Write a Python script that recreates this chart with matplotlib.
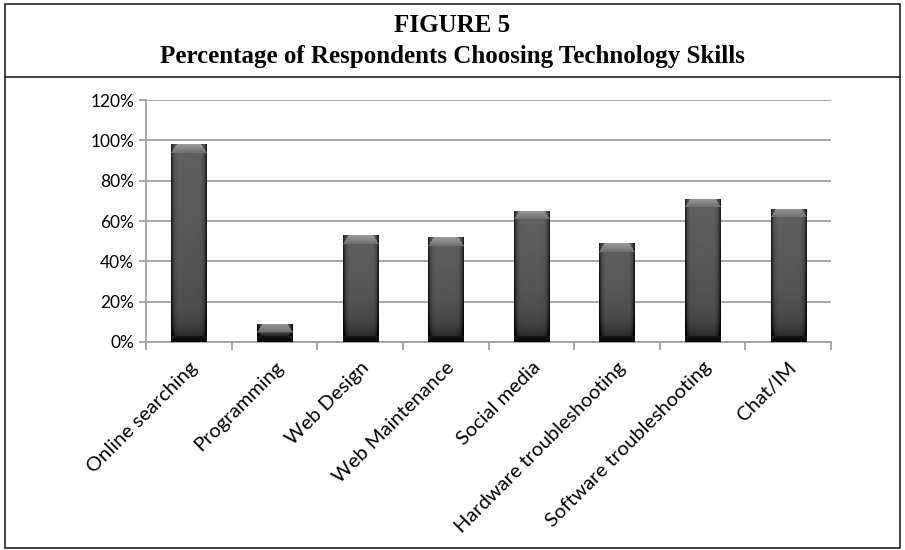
import matplotlib
matplotlib.use("Agg")
import matplotlib.pyplot as plt
import numpy as np
from matplotlib.lines import Line2D
from matplotlib.patches import Rectangle

# data
skills = ["Online searching", "Programming", "Web Design", "Web Maintenance",
          "Social media", "Hardware troubleshooting", "Software troubleshooting",
          "Chat/IM"]
percent = [98, 9, 53, 52, 65, 49, 71, 66]
yticks = [0, 20, 40, 60, 80, 100, 120]

title1 = "FIGURE 5"
title2 = "Percentage of Respondents Choosing Technology Skills"

W, H = 905, 550
fig = plt.figure(figsize=(W / 100, H / 100), dpi=100)

# frame and title box
fig.add_artist(Rectangle((5 / W, 2 / H), 895 / W, 544 / H, transform=fig.transFigure,
                         fill=False, edgecolor="#222222", linewidth=1.2))
fig.add_artist(Line2D([5 / W, 900 / W], [1 - 77 / H, 1 - 77 / H], transform=fig.transFigure,
                      color="#222222", linewidth=1.2))
fig.text(0.5, 1 - 25 / H, title1, ha="center", va="center", family="Liberation Serif",
         weight="bold", fontsize=18)
fig.text(0.5, 1 - 57 / H, title2, ha="center", va="center", family="Liberation Serif",
         weight="bold", fontsize=18)

ax = fig.add_axes([146 / W, 1 - 342 / H, (831 - 146) / W, (342 - 100) / H])
x = np.arange(len(skills))
ax.set_xlim(-0.5, len(skills) - 0.5)
ax.set_ylim(0, 120)

grid_col = "#a0a0a0"
ax.set_yticks(yticks)
ax.set_yticklabels([f"{v}%" for v in yticks], family="Lato", fontsize=12.5)
ax.yaxis.grid(True, color=grid_col, linewidth=1.3)
ax.set_axisbelow(True)
for s in ["top", "right"]:
    ax.spines[s].set_visible(False)
ax.spines["left"].set_color(grid_col)
ax.spines["bottom"].set_color(grid_col)
ax.spines["left"].set_linewidth(1.3)
ax.spines["bottom"].set_linewidth(1.3)
ax.tick_params(axis="y", colors=grid_col, labelcolor="black", length=5, width=1.3)

ax.set_xticks(x)
ax.set_xticklabels(skills, rotation=45, ha="right", rotation_mode="anchor",
                   family="Lato", fontsize=14.5)
ax.set_xticks(np.arange(len(skills) + 1) - 0.5, minor=True)
ax.tick_params(axis="x", which="major", length=0, pad=12)
ax.tick_params(axis="x", which="minor", length=6, width=1.3, colors=grid_col)

bar_w = 0.41
bars = ax.bar(x, percent, width=bar_w, color="#4d4d4d", zorder=2)

# bevelled gradient fill for each bar
fig.canvas.draw()
px_per_unit = ax.transData.transform((0, 1))[1] - ax.transData.transform((0, 0))[1]
for b, val in zip(bars, percent):
    hpx = max(int(val * px_per_unit), 4)
    wpx = 36
    xs = np.linspace(-1, 1, wpx)
    prof = 0.38 - 0.26 * np.abs(xs) ** 8
    img = np.tile(prof, (hpx, 1))
    # darken toward the bottom
    dist = np.arange(hpx)[::-1][:, None]
    img = img - 0.08 * np.linspace(0, 1, hpx)[:, None] - 0.22 * np.exp(-dist / 12.0)
    # top bevel lighter
    bev = min(9, hpx // 2)
    for i in range(bev):
        inset = int((bev - i) * 0.7)
        img[i, inset:wpx - inset] = 0.60 - 0.18 * i / bev
    # bottom bevel dark
    for i in range(min(6, hpx // 3)):
        img[hpx - 1 - i, :] = 0.04 + 0.01 * i
    img = np.clip(img, 0, 1)
    x0 = b.get_x()
    im = ax.imshow(img, cmap="gray", vmin=0, vmax=1, aspect="auto",
                   extent=(x0, x0 + bar_w, 0, val), zorder=3, interpolation="bilinear")
    im.set_clip_path(b)
ax.set_xlim(-0.5, len(skills) - 0.5)
ax.set_ylim(0, 120)

fig.savefig("out.png", dpi=100)
